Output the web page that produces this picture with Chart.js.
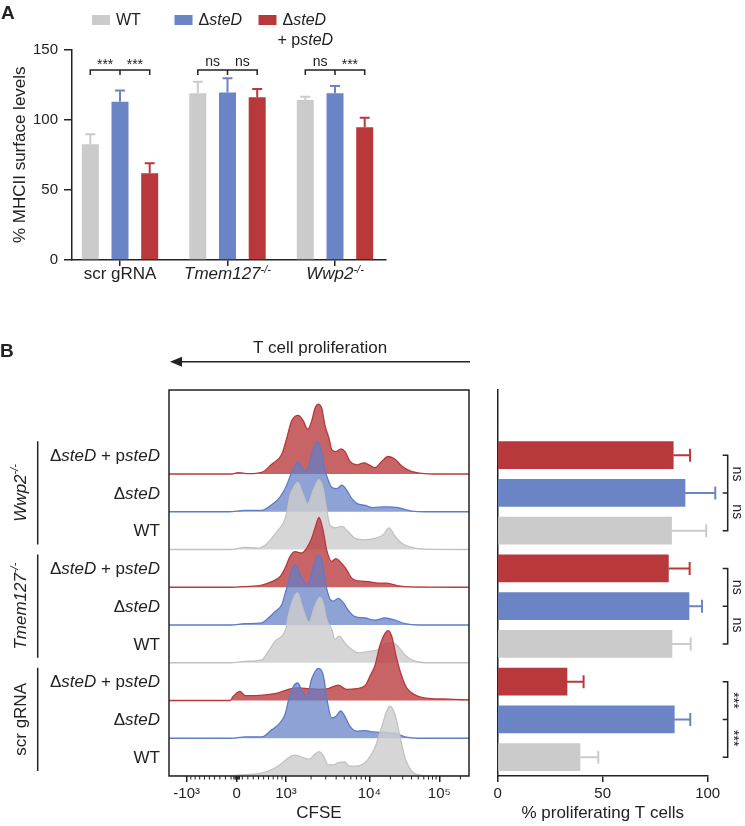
<!DOCTYPE html>
<html><head><meta charset="utf-8">
<script src="https://cdn.jsdelivr.net/npm/chart.js@4.4.1/dist/chart.umd.min.js"></script>
<style>
html,body{margin:0;padding:0;background:#fff;}
#wrap{position:relative;width:745px;height:826px;overflow:hidden;background:#fff;}
.cv{position:absolute;}
</style></head><body>
<div id="wrap">
 <div class="cv" style="left:0;top:0;width:400px;height:300px"><canvas id="cA"></canvas></div>
 <div class="cv" style="left:0;top:330px;width:490px;height:496px"><canvas id="cH"></canvas></div>
 <div class="cv" style="left:490px;top:330px;width:255px;height:496px"><canvas id="cB"></canvas></div>
</div>
<script>
const FONT = '"Liberation Sans", Arial, Helvetica, sans-serif';
const INK = '#222222';
const C_WT = '#cbcbcb', C_DEL = '#6a84c5', C_COMP = '#b9383b';

// ---------------- Panel A data ----------------
const groupsA = ['scr gRNA', 'Tmem127', 'Wwp2'];
const groupsAItalic = [false, true, true];
const groupsASup = ['', '-/-', '-/-'];
const mhcWT = [82.5, 118.8, 114.0];
const mhcWTErr = [7.1, 8.3, 2.4];
const mhcDel = [112.8, 119.3, 118.8];
const mhcDelErr = [7.9, 10.2, 5.2];
const mhcComp = [61.8, 116.0, 94.6];
const mhcCompErr = [7.1, 5.9, 6.8];
const sigA = [['***', '***'], ['ns', 'ns'], ['ns', '***']];
const bracketA = 135.4;

// ---------------- Panel B: % proliferating (order: scr, Tmem127, Wwp2) ----------------
const profWT = [39.2, 83.0, 82.8];
const profWTErr = [8.7, 8.9, 16.5];
const profDel = [84.1, 91.1, 89.2];
const profDelErr = [7.6, 6.2, 14.4];
const profComp = [33.0, 81.3, 83.6];
const profCompErr = [7.9, 10.1, 8.0];
const sigB = [['***', '***'], ['ns', 'ns'], ['ns', 'ns']];

// ---------------- Panel B: CFSE histograms [channel, % of mode] ----------------
const cfseTickPos = [17.7, 67.7, 117, 200.3, 270.3];
const cfseTickLabels = ['-10³', '0', '10³', '10⁴', '10⁵'];

const scrWT = [[0,0],[62,0.5],[76,2],[92.7,4],[102.7,9],[111,16],[117.7,24],[122.7,29],[126.7,30],[132.7,27],[140,24],[146,31],[150,35],[154.3,29],[159.3,16],[164.3,16],[169.3,19],[176,20],[179.3,15],[186,14],[192.7,16],[199.3,24],[206,41],[212.7,70],[217.7,93],[221,100],[226,88],[231,56],[236,26],[242.7,7],[252.7,1],[269.3,0],[300,0]];
const scrDel = [[0,0],[62,0],[76,2],[92.7,2],[102.7,12],[111,22],[116,34],[120,57],[124.3,74],[128.7,79],[132.7,69],[137.7,59],[142.7,85],[149.3,100],[154.3,90],[158.3,53],[162.7,29],[166.7,31],[171.7,39],[176,31],[181,17],[187.7,10],[196,11],[204.3,9],[216,8],[226,7],[236,2],[249.3,0],[300,0]];
const scrComp = [[0,0],[61,0],[64.3,6],[71,13],[76,7],[86,7],[96,8],[109.3,11],[119.3,16],[129.3,18],[139.3,17],[149.3,16],[159.3,17],[169.3,22],[177.7,16],[187.7,17],[196,21],[201,35],[206,50],[211,79],[216,96],[219.3,100],[222.7,92],[227.7,60],[232.7,35],[237.7,18],[246,8],[259.3,3],[279.3,2],[300,1]];
const tmemWT = [[0,0],[62,0],[76,2],[92.7,4],[99.3,16],[106,31],[112.7,38],[116.7,48],[119.3,67],[124.3,92],[128.7,100],[133.3,80],[140,58],[146,82],[151,94],[154.3,85],[157.7,62],[162.7,48],[166,33],[170,38],[176,28],[182.7,19],[189.3,14],[199.3,16],[209.3,19],[217.7,28],[224.3,28],[229.3,23],[236,11],[242.7,4],[256,0],[300,0]];
const tmemDel = [[0,0],[62,0],[76,2],[92.7,3],[99.3,10],[106,19],[112.7,29],[117.7,53],[122.7,78],[126,87],[131,72],[138.7,58],[144.3,83],[149.3,100],[152.7,92],[156.7,58],[161,37],[164.3,34],[169.3,38],[174.3,32],[179.3,21],[186,12],[196,10],[206,7],[216,10],[226,7],[236,2],[249.3,0],[300,0]];
const tmemComp = [[0,0],[62,0],[76,1],[92.7,3],[102.7,8],[111,15],[116,27],[121,44],[126,51],[132.7,49],[137.7,56],[142.7,70],[146.7,88],[150,100],[154.3,80],[157.7,53],[162.7,37],[166.7,41],[172.7,34],[177.7,25],[182.7,13],[189.3,9],[199.3,8],[209.3,6],[217.7,6],[229.3,2],[242.7,0.5],[300,0]];
const wwp2WT = [[0,0],[62,0],[76,3],[89.3,2],[96,6],[102.7,16],[109.3,28],[114.3,38],[117.7,52],[121,77],[124.3,88],[128.7,96],[133.3,82],[138.7,65],[144.3,85],[150,100],[154.3,86],[157.7,57],[161,35],[166,31],[173.3,33],[178.7,26],[186,16],[196,14],[206,16],[214.3,21],[220,31],[226,19],[232.7,9],[242.7,3],[256,0.5],[300,0]];
const wwp2Del = [[0,0],[60,0],[76,2],[92.7,2],[102.7,10],[111,21],[117.7,38],[122.7,57],[126,66],[128.7,71],[136.7,57],[144.3,90],[148.7,100],[152.7,85],[156,59],[159.3,45],[162.7,35],[167.7,33],[172.7,38],[177.7,31],[182.7,19],[187.7,12],[196,9],[204.3,6],[216,7],[229.3,6],[236,3],[242.7,1],[256,0],[300,0]];
const wwp2Comp = [[0,0],[62.7,0],[69.3,2],[79.3,0.5],[92.7,2.3],[102.7,14],[112.7,28],[117.7,51],[122.7,76],[129.3,84],[134.3,76],[138.7,64],[142.7,76],[146,94],[149.3,100],[152.7,94],[156,69],[160,51],[162.7,35],[166.7,32],[172,36],[176,32],[181,18],[187.7,13],[195,16],[200,13],[206,9],[212.7,18],[219.3,25],[226,21],[232.7,11.5],[241,4.6],[252.7,1],[269.3,0],[300,0]];

const histCurves = [[scrWT, scrDel, scrComp], [tmemWT, tmemDel, tmemComp], [wwp2WT, wwp2Del, wwp2Comp]];

// ---------------- helpers ----------------
function fontStr(p, size) {
  const s = p.sup ? Math.round(size * 0.62) : size;
  return (p.it ? 'italic ' : '') + (p.b ? 'bold ' : '') + s + 'px ' + FONT;
}
function richWidth(ctx, parts, size) {
  let w = 0;
  for (const p of parts) { ctx.font = fontStr(p, size); w += ctx.measureText(p.t).width; }
  return w;
}
function drawRich(ctx, parts, x, y, size, align) {
  const w = richWidth(ctx, parts, size);
  let cx = align === 'right' ? x - w : (align === 'center' ? x - w / 2 : x);
  ctx.textAlign = 'left';
  for (const p of parts) {
    ctx.font = fontStr(p, size);
    ctx.fillText(p.t, cx, y + (p.sup ? -size * 0.38 : 0));
    cx += ctx.measureText(p.t).width;
  }
}
const DEL_PARTS = [{t: 'Δ'}, {t: 'steD', it: true}];
const COMP_PARTS = [{t: 'Δ'}, {t: 'steD', it: true}, {t: ' + p'}, {t: 'steD', it: true}];
const WT_PARTS = [{t: 'WT'}];

// ---------------- Panel A chart ----------------
const errA = [mhcWTErr, mhcDelErr, mhcCompErr];
const valA = [mhcWT, mhcDel, mhcComp];
const colA = [C_WT, C_DEL, C_COMP];

const pluginA = {
  id: 'pA',
  afterDatasetsDraw(chart) {
    const ctx = chart.ctx, y = chart.scales.y;
    ctx.save();
    for (let d = 0; d < 3; d++) {
      const meta = chart.getDatasetMeta(d);
      meta.data.forEach((el, i) => {
        const top = y.getPixelForValue(valA[d][i] + errA[d][i]);
        ctx.strokeStyle = colA[d]; ctx.lineWidth = 2;
        ctx.beginPath(); ctx.moveTo(el.x, el.y); ctx.lineTo(el.x, top);
        ctx.moveTo(el.x - 5, top); ctx.lineTo(el.x + 5, top); ctx.stroke();
      });
    }
    ctx.restore();
  },
  afterDraw(chart) {
    const ctx = chart.ctx, ys = chart.scales.y, xs = chart.scales.x;
    ctx.save();
    ctx.fillStyle = INK; ctx.strokeStyle = INK; ctx.textBaseline = 'alphabetic';
    // panel letter
    ctx.font = 'bold 19px ' + FONT; ctx.textAlign = 'left'; ctx.fillText('A', 1, 19);
    // brackets
    const by = ys.getPixelForValue(bracketA);
    for (let g = 0; g < 3; g++) {
      const x1 = chart.getDatasetMeta(0).data[g].x, x2 = chart.getDatasetMeta(1).data[g].x, x3 = chart.getDatasetMeta(2).data[g].x;
      ctx.lineWidth = 1.5;
      ctx.beginPath();
      ctx.moveTo(x1, by + 5); ctx.lineTo(x1, by); ctx.lineTo(x3, by); ctx.lineTo(x3, by + 5);
      ctx.moveTo(x2, by); ctx.lineTo(x2, by + 5);
      ctx.stroke();
      ctx.font = '14px ' + FONT; ctx.textAlign = 'center';
      [[(x1 + x2) / 2, sigA[g][0]], [(x2 + x3) / 2, sigA[g][1]]].forEach(([x, t]) => {
        ctx.fillText(t, x, t === 'ns' ? by - 4 : by - 1);
      });
    }
    // category labels
    for (let g = 0; g < 3; g++) {
      const parts = [{t: groupsA[g], it: groupsAItalic[g]}];
      if (groupsASup[g]) parts.push({t: groupsASup[g], it: true, sup: true});
      drawRich(ctx, parts, xs.getPixelForValue(g), 279, 17, 'center');
    }
    // legend
    ctx.textBaseline = 'middle';
    const leg = [[92, 20, C_WT, WT_PARTS], [174.5, 20, C_DEL, DEL_PARTS], [258.5, 20, C_COMP, DEL_PARTS]];
    leg.forEach(([x, yy, c, parts]) => {
      ctx.fillStyle = c; ctx.fillRect(x, yy - 5, 18, 10);
      ctx.fillStyle = INK; drawRich(ctx, parts, x + 24, yy + 1, 16, 'left');
    });
    drawRich(ctx, [{t: '+ p'}, {t: 'steD', it: true}], 277.5, 41, 16, 'left');
    ctx.restore();
  }
};

new Chart(document.getElementById('cA'), {
  type: 'bar',
  data: {
    datasets: [0, 1, 2].map(d => ({
      label: ['WT', 'ΔsteD', 'ΔsteD + psteD'][d],
      data: valA[d].map((v, i) => ({x: i, y: v})),
      backgroundColor: colA[d], borderWidth: 0,
      categoryPercentage: 0.829, barPercentage: 0.572
    }))
  },
  options: {
    animation: false, responsive: true, maintainAspectRatio: false,
    layout: {padding: {left: 0, right: 14, top: 49.5, bottom: 0}},
    plugins: {legend: {display: false}, tooltip: {enabled: false}},
    scales: {
      x: {type: 'linear', min: -0.4465, max: 2.4744, offset: false,
        afterBuildTicks: s => { s.ticks = [0, 1, 2].map(v => ({value: v})); },
        ticks: {display: false},
        grid: {drawOnChartArea: false, offset: false, tickLength: 6, color: INK, lineWidth: 1.5},
        border: {color: INK, width: 1.5},
        afterFit: s => { s.height = 40; }},
      y: {min: 0, max: 150,
        ticks: {stepSize: 50, color: INK, font: {family: FONT, size: 15}, padding: 6},
        grid: {drawOnChartArea: false, tickLength: 8, color: INK, lineWidth: 1.5},
        border: {color: INK, width: 1.5},
        title: {display: true, text: '% MHCII surface levels', color: INK, font: {family: FONT, size: 17}, padding: {top: 10, bottom: 0}},
        afterFit: s => { s.width = 72; }}
    }
  },
  plugins: [pluginA]
});

// ---------------- Panel B histograms ----------------
const ROW = 54;
const lineCols = ['#c2c2c2', '#5d7bc9', '#b9383b'];
const fillCols = ['rgba(205,205,205,0.82)', 'rgba(98,126,198,0.72)', 'rgba(185,56,59,0.78)'];
const histDatasets = [];
for (let g = 0; g < 3; g++) {
  for (let s = 0; s < 3; s++) {
    const row = g * 3 + s;
    histDatasets.push({
      data: histCurves[g][s].map(([c, p]) => ({x: c, y: row * ROW + p})),
      borderColor: lineCols[s], backgroundColor: fillCols[s],
      fill: {value: row * ROW}, borderWidth: 1.3, pointRadius: 0,
      cubicInterpolationMode: 'monotone'
    });
  }
}
function cfseToChannel(v) {
  const a = Math.abs(v), sg = v < 0 ? -1 : 1;
  if (a <= 1000) {
    const f = Math.asinh(a / 1000) / Math.asinh(1);
    return sg < 0 ? 67.7 - f * 50 : 67.7 + f * 49.3;
  }
  const l = Math.log10(a);
  if (l <= 4) return 117 + (l - 3) * 83.3;
  return 200.3 + (l - 4) * 70;
}
const minorVals = [];
for (let k = 1; k <= 9; k++) { minorVals.push(-k * 100); minorVals.push(k * 100); }
[-50, -30, -15, 15, 30, 50].forEach(v => minorVals.push(v));
for (let k = 2; k <= 9; k++) { minorVals.push(k * 1000); minorVals.push(k * 10000); }
minorVals.push(200000);

const rowParts = [WT_PARTS, DEL_PARTS, COMP_PARTS];
const groupParts = [
  [{t: 'scr gRNA'}],
  [{t: 'Tmem127', it: true}, {t: '-/-', it: true, sup: true}],
  [{t: 'Wwp2', it: true}, {t: '-/-', it: true, sup: true}]
];

const pluginH = {
  id: 'pH',
  afterDraw(chart) {
    const ctx = chart.ctx, ca = chart.chartArea, xs = chart.scales.x, ys = chart.scales.y;
    ctx.save();
    ctx.strokeStyle = INK; ctx.fillStyle = INK;
    // box
    ctx.lineWidth = 1.5;
    ctx.strokeRect(ca.left, ca.top, ca.right - ca.left, ca.bottom - ca.top);
    // minor ticks
    ctx.lineWidth = 1;
    ctx.beginPath();
    minorVals.forEach(v => {
      const c = cfseToChannel(v);
      if (c < 0 || c > 300) return;
      const px = xs.getPixelForValue(c);
      ctx.moveTo(px, ca.bottom); ctx.lineTo(px, ca.bottom + 3.5);
    });
    ctx.stroke();
    // row labels
    ctx.textBaseline = 'middle';
    for (let g = 0; g < 3; g++) {
      for (let s = 0; s < 3; s++) {
        const row = g * 3 + s;
        const yy = ys.getPixelForValue(row * ROW + ROW / 2);
        drawRich(ctx, rowParts[s], 160, yy + 1, 17, 'right');
      }
      // group line
      const yTop = ys.getPixelForValue((g * 3 + 3) * ROW) + 5;
      const yBot = ys.getPixelForValue(g * 3 * ROW) - 5;
      ctx.lineWidth = 1.5;
      ctx.beginPath(); ctx.moveTo(37.7, yTop); ctx.lineTo(37.7, yBot); ctx.stroke();
      ctx.save();
      ctx.translate(20, (yTop + yBot) / 2);
      ctx.rotate(-Math.PI / 2);
      drawRich(ctx, groupParts[g], 0, 1, 17, 'center');
      ctx.restore();
    }
    // panel letter + arrow
    ctx.textBaseline = 'alphabetic';
    ctx.font = 'bold 19px ' + FONT; ctx.textAlign = 'left'; ctx.fillText('B', 0, 27);
    ctx.textBaseline = 'middle'; ctx.textAlign = 'center';
    ctx.font = '17px ' + FONT; ctx.fillText('T cell proliferation', 320, 18);
    ctx.lineWidth = 1.5;
    ctx.beginPath(); ctx.moveTo(178, 31.7); ctx.lineTo(470, 31.7); ctx.stroke();
    ctx.beginPath(); ctx.moveTo(170, 31.7); ctx.lineTo(182, 26.7); ctx.lineTo(182, 36.7); ctx.closePath(); ctx.fill();
    ctx.restore();
  }
};

new Chart(document.getElementById('cH'), {
  type: 'line',
  data: {datasets: histDatasets},
  options: {
    animation: false, responsive: true, maintainAspectRatio: false,
    layout: {padding: {left: 169, right: 21, top: 60, bottom: 0}},
    plugins: {legend: {display: false}, tooltip: {enabled: false}},
    scales: {
      x: {type: 'linear', min: 0, max: 300, offset: false,
        afterBuildTicks: s => { s.ticks = cfseTickPos.map(v => ({value: v})); },
        ticks: {autoSkip: false, maxRotation: 0, color: INK, font: {family: FONT, size: 15}, padding: 3,
          callback: (v, i) => cfseTickLabels[i]},
        grid: {drawOnChartArea: false, tickLength: 6, color: INK, lineWidth: 1.5},
        border: {display: false},
        title: {display: true, text: 'CFSE', color: INK, font: {family: FONT, size: 17}, padding: {top: 0, bottom: 2}},
        afterFit: s => { s.height = 50; }},
      y: {type: 'linear', min: 0, max: 386 / 37.75 * ROW, display: false}
    }
  },
  plugins: [pluginH]
});

// ---------------- Panel B bars ----------------
const barVals = [], barErrs = [], barCols = [];
[[profWT, profWTErr, C_WT], [profDel, profDelErr, C_DEL], [profComp, profCompErr, C_COMP]];
for (let g = 0; g < 3; g++) {
  barVals.push(profWT[g], profDel[g], profComp[g]);
  barErrs.push(profWTErr[g], profDelErr[g], profCompErr[g]);
  barCols.push(C_WT, C_DEL, C_COMP);
}
const pluginB = {
  id: 'pB',
  afterDatasetsDraw(chart) {
    const ctx = chart.ctx, xs = chart.scales.x, ys = chart.scales.y, ca = chart.chartArea;
    ctx.save();
    chart.getDatasetMeta(0).data.forEach((el, i) => {
      const xe = xs.getPixelForValue(barVals[i] + barErrs[i]);
      ctx.strokeStyle = barCols[i]; ctx.lineWidth = 2;
      ctx.beginPath(); ctx.moveTo(el.x, el.y); ctx.lineTo(xe, el.y);
      ctx.moveTo(xe, el.y - 6.5); ctx.lineTo(xe, el.y + 6.5); ctx.stroke();
    });
    // brackets
    ctx.strokeStyle = INK; ctx.fillStyle = INK; ctx.lineWidth = 1.5;
    const bx = ca.right + 20;
    for (let g = 0; g < 3; g++) {
      const yW = ys.getPixelForValue(g * 3 + 0.5), yD = ys.getPixelForValue(g * 3 + 1.5), yC = ys.getPixelForValue(g * 3 + 2.5);
      ctx.beginPath();
      ctx.moveTo(bx - 5, yC); ctx.lineTo(bx, yC); ctx.lineTo(bx, yW); ctx.lineTo(bx - 5, yW);
      ctx.moveTo(bx - 5, yD); ctx.lineTo(bx, yD);
      ctx.stroke();
      [[(yC + yD) / 2, sigB[g][1]], [(yD + yW) / 2, sigB[g][0]]].forEach(([yy, t]) => {
        ctx.save();
        ctx.translate(bx + (t === 'ns' ? 5 : 4), yy);
        ctx.rotate(Math.PI / 2);
        ctx.font = '14px ' + FONT; ctx.textAlign = 'center'; ctx.textBaseline = 'alphabetic';
        ctx.fillText(t, 0, t === 'ns' ? 0 : 3);
        ctx.restore();
      });
    }
    ctx.restore();
  }
};
new Chart(document.getElementById('cB'), {
  type: 'bar',
  data: {datasets: [{
    data: barVals.map((v, i) => ({x: v, y: i + 0.5})),
    backgroundColor: barCols, borderWidth: 0, barThickness: 27
  }]},
  options: {
    indexAxis: 'y', animation: false, responsive: true, maintainAspectRatio: false,
    layout: {padding: {left: 7.7, right: 37.3, top: 60, bottom: 0}},
    plugins: {legend: {display: false}, tooltip: {enabled: false}},
    scales: {
      x: {type: 'linear', min: 0, max: 100,
        ticks: {stepSize: 50, color: INK, font: {family: FONT, size: 15}, padding: 3},
        grid: {drawOnChartArea: false, tickLength: 6, color: INK, lineWidth: 1.5},
        border: {color: INK, width: 1.5},
        title: {display: true, text: '% proliferating T cells', color: INK, font: {family: FONT, size: 17}, padding: {top: 0, bottom: 2}},
        afterFit: s => { s.height = 50; }},
      y: {type: 'linear', min: 0, max: 386 / 37.75, offset: false,
        ticks: {display: false}, grid: {display: false},
        border: {color: INK, width: 1.5},
        afterFit: s => { s.width = 0; }}
    }
  },
  plugins: [pluginB]
});
</script>
</body></html>
